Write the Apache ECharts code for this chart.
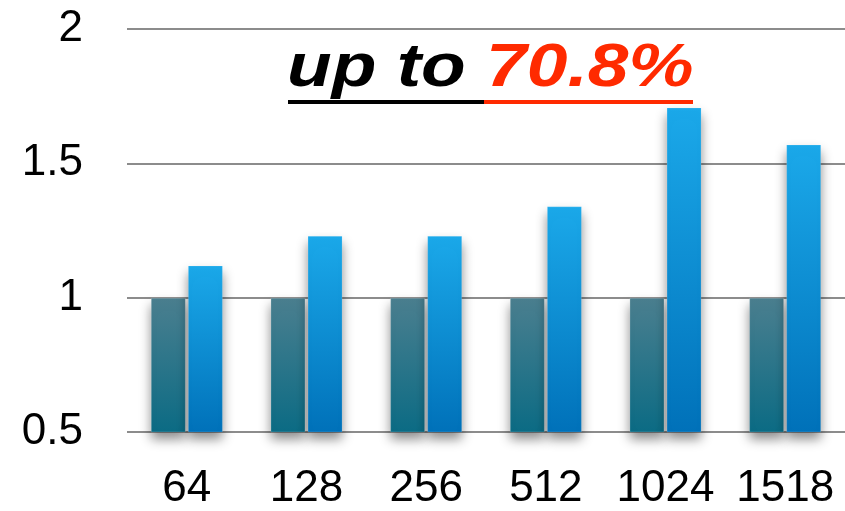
<!DOCTYPE html>
<html>
<head>
<meta charset="utf-8">
<script src="https://cdn.jsdelivr.net/npm/echarts@6/dist/echarts.min.js"></script>
<style>
  html, body { margin: 0; padding: 0; background: #fff; }
  #chart { width: 845px; height: 511px; }
</style>
</head>
<body>
<div id="chart"></div>
<script>
// Packet sizes (bytes) on the x axis
const packetSizes = ['64', '128', '256', '512', '1024', '1518'];
// Normalised throughput: baseline vs. improved
const baseline = [1, 1, 1, 1, 1, 1];
const improved = [1.12, 1.23, 1.23, 1.34, 1.708, 1.57];
// Value axis ticks
const yMin = 0.5, yMax = 2, yStep = 0.5;

const chart = echarts.init(document.getElementById('chart'), null, { renderer: 'canvas' });

const fontFamily = '"Liberation Sans", Helvetica, Arial, sans-serif';

function grad(top, bottom) {
  return new echarts.graphic.LinearGradient(0, 0, 0, 1, [
    { offset: 0, color: top },
    { offset: 1, color: bottom }
  ]);
}

const barShadow = {
  shadowBlur: 12,
  shadowOffsetY: 7,
  shadowOffsetX: 0,
  shadowColor: 'rgba(0,0,0,0.45)'
};

chart.setOption({
  animation: false,
  backgroundColor: '#ffffff',
  grid: { left: 127, width: 726, top: 29, height: 408, containLabel: false },
  xAxis: {
    type: 'category',
    data: packetSizes,
    axisLine: { show: false },
    axisTick: { show: false },
    axisLabel: {
      interval: 0,
      hideOverlap: false,
      color: '#000',
      fontSize: 44,
      fontFamily: fontFamily,
      margin: 35
    }
  },
  yAxis: {
    type: 'value',
    min: yMin,
    max: yMax,
    interval: yStep,
    axisLine: { show: false },
    axisTick: { show: false },
    axisLabel: {
      color: '#000',
      fontSize: 44,
      fontFamily: fontFamily,
      margin: 44
    },
    splitLine: { lineStyle: { color: '#8c8c8c', width: 2 } }
  },
  series: [
    {
      name: 'baseline',
      type: 'bar',
      data: baseline,
      barWidth: 35,
      barGap: '6%',
      itemStyle: Object.assign({
        color: grad('#4b7f8f', '#0b6b84'),
        borderColor: 'rgba(255,255,255,0.18)',
        borderWidth: 1
      }, barShadow),
      z: 3
    },
    {
      name: 'improved',
      type: 'bar',
      data: improved,
      barWidth: 35,
      itemStyle: Object.assign({
        color: grad('#1ba9ea', '#0071b9'),
        borderColor: 'rgba(255,255,255,0.15)',
        borderWidth: 1
      }, barShadow),
      z: 3
    }
  ],
  graphic: [
    {
      type: 'text',
      x: 287,
      y: 38,
      scaleX: 1.18,
      style: {
        text: '{a|up to }{b|70.8%}',
        rich: {
          a: { fontSize: 62, fontWeight: 'bold', fontStyle: 'italic', fontFamily: fontFamily, fill: '#000' },
          b: { fontSize: 62, fontWeight: 'bold', fontStyle: 'italic', fontFamily: fontFamily, fill: '#ff2a00' }
        }
      },
      z: 10
    },
    {
      type: 'rect',
      shape: { x: 288, y: 100, width: 196, height: 4 },
      style: { fill: '#000' },
      z: 10
    },
    {
      type: 'rect',
      shape: { x: 484, y: 100, width: 209, height: 4 },
      style: { fill: '#ff2a00' },
      z: 10
    }
  ]
});
</script>
</body>
</html>
